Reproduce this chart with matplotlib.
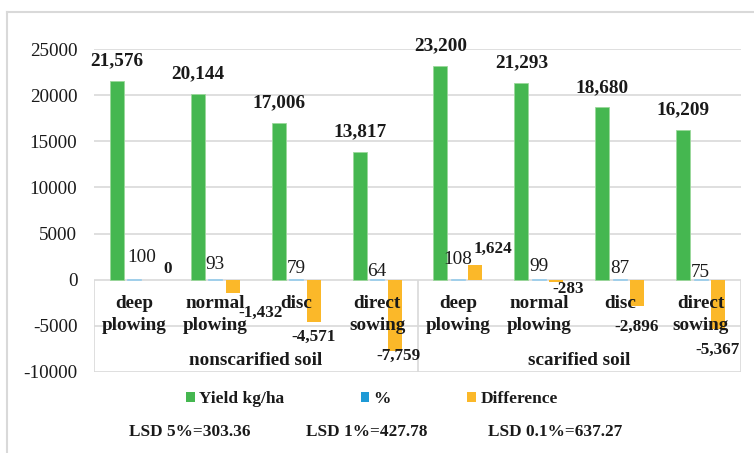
import matplotlib
matplotlib.use("Agg")
import numpy as np
from matplotlib import pyplot as plt
from matplotlib.lines import Line2D
from matplotlib.patches import Patch

plt.rcParams['font.family'] = ['Liberation Serif', 'DejaVu Serif']

# data
methods = ["deep\nplowing", "normal\nplowing", "disc", "direct\nsowing"] * 2
groups = ["nonscarified soil", "scarified soil"]
yield_kg = [21576, 20144, 17006, 13817, 23200, 21293, 18680, 16209]
percent = [100, 93, 79, 64, 108, 99, 87, 75]
difference = [0, -1432, -4571, -7759, 1624, -283, -2896, -5367]
lsd_texts = ["LSD 5%=303.36", "LSD 1%=427.78", "LSD 0.1%=637.27"]

# label nudges (pixels) as placed by hand in the original
pct_dx = [7, 0, 0, 0, 0, 0, 0, 0]
pct_dy = [21, 14, 10, 8, 19, 12, 10, 7]
diff_dx = [16, 28, 0, 4, 18, 12, -1, -1]
diff_dy = [11, -20, -15, -5, 16, -7, -20, -21]

green = "#45B750"
blue = "#1E9AD6"
orange = "#FBB829"
grid = "#D9D9D9"
ink = "#1A1A1A"

W, H = 754, 453
fig = plt.figure(figsize=(W / 100, H / 100), dpi=100)
ax = fig.add_axes([94 / W, 1 - 372 / H, 647 / W, 323 / H])

x = np.arange(len(yield_kg))
bw = 0.173
step = 0.216

ax.bar(x - step, yield_kg, bw, color=green, edgecolor="#9BD89B", linewidth=0.6, zorder=3)
ax.bar(x, percent, bw, color=blue, edgecolor="#A9D3EE", linewidth=0.6, zorder=3)
ax.bar(x + step, difference, bw, color=orange, zorder=3)

ax.set_xlim(-0.5, len(x) - 0.5)
ax.set_ylim(-10000, 25000)
ticks = list(range(-10000, 25001, 5000))
ax.set_yticks(ticks)
ax.set_yticklabels([str(t) for t in ticks], fontsize=13.8, color=ink)
ax.tick_params(axis='y', length=0, pad=12)
ax.set_xticks([])
for s in ax.spines.values():
    s.set_visible(False)
for t in ticks:
    ax.axhline(t, color=grid, lw=1.2, zorder=1)
ax.vlines([-0.5, 3.5, len(x) - 0.5], -10000, 0, color=grid, lw=1.2, zorder=1)

# data labels
for i in range(len(x)):
    ax.annotate(f"{yield_kg[i]:,}", (x[i] - step, yield_kg[i]), xytext=(0, 20),
                textcoords="offset pixels", ha="center", va="center",
                fontsize=13.9, fontweight="bold", color=ink)
    ax.annotate(f"{percent[i]}", (x[i], percent[i]), xytext=(pct_dx[i], pct_dy[i]),
                textcoords="offset pixels", ha="center", va="center",
                fontsize=13.9, color=ink)
    ax.annotate(f"{difference[i]:,}", (x[i] + step, difference[i]),
                xytext=(diff_dx[i], diff_dy[i]), textcoords="offset pixels",
                ha="center", va="center", fontsize=12.3, fontweight="bold",
                color=ink)

# multi-level category axis
for i, m in enumerate(methods):
    ax.text(x[i], -1700, m, ha="center", va="top", fontsize=13.8,
            fontweight="bold", linespacing=1.35, color=ink)
for g, name in enumerate(groups):
    ax.text(1.5 + 4 * g, -8700, name, ha="center", va="center", fontsize=13.8,
            fontweight="bold", color=ink)

# legend
handles = [Patch(facecolor=green), Patch(facecolor=blue), Patch(facecolor=orange)]
leg = fig.legend(handles, ["Yield kg/ha", "%", "Difference"], ncol=3, frameon=False,
                 loc="center", bbox_to_anchor=(372 / W, 1 - 399 / H),
                 prop={'size': 12.5, 'weight': 'bold'}, handlelength=0.5,
                 handleheight=0.5, handletextpad=0.25, columnspacing=4.4)
for t in leg.get_texts():
    t.set_color(ink)

lsd_x = [129, 306, 488]
for xx, txt in zip(lsd_x, lsd_texts):
    fig.text(xx / W, 1 - 432 / H, txt, ha="left", va="center", fontsize=12.4,
             fontweight="bold", color=ink)

# chart area border
fig.add_artist(Line2D([7 / W, 1], [1 - 12 / H, 1 - 12 / H], color=grid, lw=1.5))
fig.add_artist(Line2D([7 / W, 7 / W], [0, 1 - 12 / H], color=grid, lw=1.5))

fig.savefig("out.png", dpi=100)
